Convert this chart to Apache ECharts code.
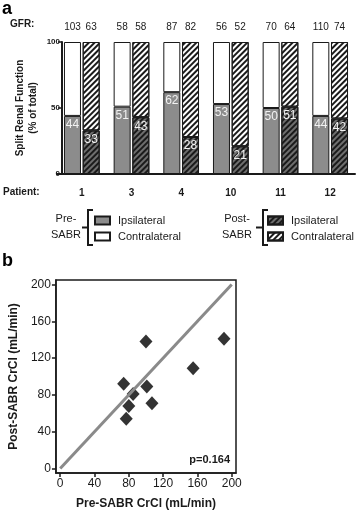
<!DOCTYPE html>
<html>
<head>
<meta charset="utf-8">
<script src="https://cdn.jsdelivr.net/npm/echarts@6/dist/echarts.min.js"></script>
<style>
html, body { margin: 0; padding: 0; background: #fff; }
#chart { width: 358px; height: 514px; }
</style>
</head>
<body>
<div id="chart"></div>
<script>
// panel a: split renal function per patient
const patients = ['1', '3', '4', '10', '11', '12'];
const preIps = [44, 51, 62, 53, 50, 44];
const preContra = [56, 49, 38, 47, 50, 56];
const postIps = [33, 43, 28, 21, 51, 42];
const postContra = [67, 57, 72, 79, 49, 58];
const gfrPre = [103, 58, 87, 56, 70, 110];
const gfrPost = [63, 58, 82, 52, 64, 74];
const splitTicks = [0, 50, 100];

// panel b: pre vs post CrCl
const preCrCl = [74, 100, 191, 155, 101, 85, 80, 107, 77];
const postCrCl = [92, 138, 141, 109, 89, 81, 68, 71, 54];
const crclTicks = [0, 40, 80, 120, 160, 200];
const identity = [[0, 0], [200, 200]];

const font = 'Liberation Sans, Arial, sans-serif';
const ink = '#1a1a1a';

const chart = echarts.init(document.getElementById('chart'));

const hatch = (lineColor) => ({
    symbol: 'rect',
    symbolSize: 1,
    dashArrayX: [1, 0],
    dashArrayY: [2, 2],
    rotation: -Math.PI / 4,
    color: lineColor
});

const option = {
    animation: false,
    textStyle: { fontFamily: font },
    grid: [
        { left: 57, top: 42, width: 298, height: 132 },
        { left: 50, top: 280, width: 186, height: 193, show: true, borderColor: ink, borderWidth: 1.5 }
    ],
    xAxis: [
        {
            gridIndex: 0,
            type: 'category',
            data: patients,
            axisTick: { show: false },
            axisLine: { lineStyle: { color: ink, width: 2 } },
            axisLabel: { color: ink, fontWeight: 'bold', fontSize: 10, margin: 14 }
        },
        {
            gridIndex: 1,
            type: 'value',
            min: -5,
            max: 205,
            splitLine: { show: false },
            axisLine: { onZero: false, lineStyle: { color: ink, width: 1.5 } },
            axisTick: { show: true, length: 4, customValues: crclTicks, lineStyle: { color: ink, width: 1.5 } },
            axisLabel: { customValues: crclTicks, color: ink, fontSize: 12, margin: 5 },
            name: 'Pre-SABR CrCl (mL/min)',
            nameLocation: 'middle',
            nameGap: 25,
            nameTextStyle: { color: ink, fontWeight: 'bold', fontSize: 12 }
        }
    ],
    yAxis: [
        {
            gridIndex: 0,
            type: 'value',
            min: 0,
            max: 100,
            offset: -5,
            splitLine: { show: false },
            axisLine: { show: true, lineStyle: { color: ink, width: 2 } },
            axisTick: { show: true, length: 4, customValues: splitTicks, lineStyle: { color: ink, width: 1.5 } },
            axisLabel: { customValues: splitTicks, color: ink, fontWeight: 'bold', fontSize: 8, margin: 2 },
            name: 'Split Renal Function\n(% of total)',
            nameLocation: 'middle',
            nameGap: 22,
            nameMoveOverlap: false,
            nameTextStyle: { color: ink, fontWeight: 'bold', fontSize: 10, lineHeight: 13 }
        },
        {
            gridIndex: 1,
            type: 'value',
            min: -5,
            max: 205,
            splitLine: { show: false },
            axisLine: { onZero: false, lineStyle: { color: ink, width: 1.5 } },
            axisTick: { show: true, length: 4, customValues: crclTicks, lineStyle: { color: ink, width: 1.5 } },
            axisLabel: { customValues: crclTicks, color: ink, fontSize: 12, margin: 5 },
            name: 'Post-SABR CrCl (mL/min)',
            nameLocation: 'middle',
            nameGap: 34,
            nameTextStyle: { color: ink, fontWeight: 'bold', fontSize: 12 }
        }
    ],
    legend: [
        {
            left: 94, top: 215, orient: 'vertical', padding: 0,
            itemWidth: 15, itemHeight: 8, itemGap: 5,
            icon: 'rect',
            data: ['Pre Ipsilateral', 'Pre Contralateral'],
            formatter: n => n.replace('Pre ', ''),
            textStyle: { color: ink, fontSize: 11, padding: [0, 0, 0, 3] }
        },
        {
            left: 267, top: 215, orient: 'vertical', padding: 0,
            itemWidth: 15, itemHeight: 8, itemGap: 5,
            icon: 'rect',
            data: ['Post Ipsilateral', 'Post Contralateral'],
            formatter: n => n.replace('Post ', ''),
            textStyle: { color: ink, fontSize: 11, padding: [0, 0, 0, 3] }
        }
    ],
    series: [
        {
            name: 'Pre Ipsilateral', type: 'bar', stack: 'pre',
            xAxisIndex: 0, yAxisIndex: 0,
            data: preIps, barWidth: 17, barGap: '10%',
            itemStyle: { color: '#8c8c8c', borderColor: ink, borderWidth: 1 },
            label: { show: true, position: 'insideTop', distance: 3, color: '#f2f2f2', fontSize: 12 }
        },
        {
            name: 'Pre Contralateral', type: 'bar', stack: 'pre',
            xAxisIndex: 0, yAxisIndex: 0,
            data: preContra, barWidth: 17, barGap: '10%',
            itemStyle: { color: '#ffffff', borderColor: ink, borderWidth: 1 },
            label: { show: true, position: 'top', distance: 10, color: ink, fontSize: 10,
                formatter: p => gfrPre[p.dataIndex] }
        },
        {
            name: 'Post Ipsilateral', type: 'bar', stack: 'post',
            xAxisIndex: 0, yAxisIndex: 0,
            data: postIps, barWidth: 17, barGap: '10%',
            itemStyle: { color: '#6e6e6e', borderColor: ink, borderWidth: 1, decal: hatch('#1a1a1a') },
            label: { show: true, position: 'insideTop', distance: 3, color: '#f2f2f2', fontSize: 12 }
        },
        {
            name: 'Post Contralateral', type: 'bar', stack: 'post',
            xAxisIndex: 0, yAxisIndex: 0,
            data: postContra, barWidth: 17, barGap: '10%',
            itemStyle: { color: '#ffffff', borderColor: ink, borderWidth: 1, decal: hatch('#1a1a1a') },
            label: { show: true, position: 'top', distance: 10, color: ink, fontSize: 10,
                formatter: p => gfrPost[p.dataIndex] }
        },
        {
            name: 'identity', type: 'line',
            xAxisIndex: 1, yAxisIndex: 1,
            data: identity, symbol: 'none',
            lineStyle: { color: '#8a8a8a', width: 3 }
        },
        {
            name: 'patients', type: 'scatter',
            xAxisIndex: 1, yAxisIndex: 1,
            data: preCrCl.map((v, i) => [v, postCrCl[i]]),
            symbol: 'diamond', symbolSize: [13, 14],
            itemStyle: { color: '#000' }
        }
    ],
    graphic: [
        { type: 'text', left: 2, top: 0, style: { text: 'a', font: 'bold 18px ' + font, fill: '#000' } },
        { type: 'text', left: 2, top: 252, style: { text: 'b', font: 'bold 18px ' + font, fill: '#000' } },
        { type: 'text', left: 10, top: 19, style: { text: 'GFR:', font: 'bold 10px ' + font, fill: ink } },
        { type: 'text', left: 3, top: 187, style: { text: 'Patient:', font: 'bold 10px ' + font, fill: ink } },
        // legend group labels + brackets
        { type: 'text', x: 66, y: 219, style: { text: 'Pre-', font: '11px ' + font, fill: ink, align: 'center', verticalAlign: 'middle' } },
        { type: 'text', x: 66, y: 235, style: { text: 'SABR', font: '11px ' + font, fill: ink, align: 'center', verticalAlign: 'middle' } },
        { type: 'polyline', shape: { points: [[93, 210], [88, 210], [88, 245], [93, 245]] }, style: { stroke: ink, lineWidth: 2, fill: null } },
        { type: 'line', shape: { x1: 82, y1: 227.5, x2: 88, y2: 227.5 }, style: { stroke: ink, lineWidth: 2 } },
        { type: 'text', x: 237, y: 219, style: { text: 'Post-', font: '11px ' + font, fill: ink, align: 'center', verticalAlign: 'middle' } },
        { type: 'text', x: 237, y: 235, style: { text: 'SABR', font: '11px ' + font, fill: ink, align: 'center', verticalAlign: 'middle' } },
        { type: 'polyline', shape: { points: [[268, 210], [263, 210], [263, 245], [268, 245]] }, style: { stroke: ink, lineWidth: 2, fill: null } },
        { type: 'line', shape: { x1: 256, y1: 227.5, x2: 263, y2: 227.5 }, style: { stroke: ink, lineWidth: 2 } },
        { type: 'text', x: 230, y: 460, style: { text: 'p=0.164', font: 'bold 11px ' + font, fill: ink, align: 'right', verticalAlign: 'middle' } }
    ]
};

chart.setOption(option);
window.addEventListener('resize', () => {
    chart.resize();
}, false);
</script>
</body>
</html>
